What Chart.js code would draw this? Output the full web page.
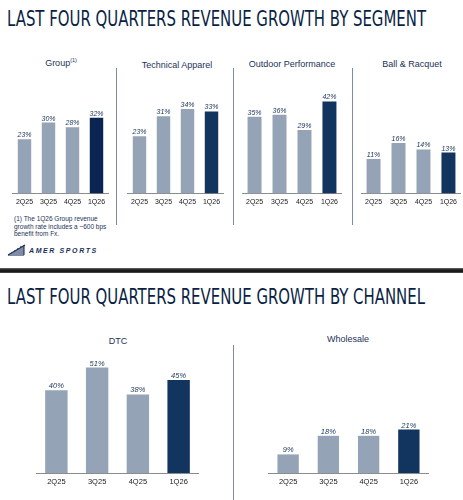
<!DOCTYPE html>
<html>
<head>
<meta charset="utf-8">
<script src="https://cdn.jsdelivr.net/npm/chart.js@4.4.1/dist/chart.umd.min.js"></script>
<style>
    html, body {
        margin: 0;
        padding: 0;
        background: #ffffff;
    }
    body {
        position: relative;
        width: 463px;
        height: 500px;
        overflow: hidden;
        font-family: "Liberation Sans", Arial, sans-serif;
    }
    .page-title {
        position: absolute;
        left: 7px;
        font-family: "Liberation Sans Narrow", "DejaVu Sans Condensed", "Liberation Sans", sans-serif;
        font-size: 21px;
        line-height: 1;
        color: #0b1f45;
        white-space: nowrap;
        transform-origin: left top;
    }
    .panel-title {
        position: absolute;
        font-size: 9px;
        line-height: 1;
        color: #1c3358;
        white-space: nowrap;
        transform: translate(-50%, -50%);
    }
    .panel-title sup {
        font-size: 5.5px;
        vertical-align: 4px;
    }
    .divider {
        position: absolute;
        width: 1px;
        background: #7d8ca3;
    }
    .chart-box {
        position: absolute;
    }
    .footnote {
        position: absolute;
        left: 14px;
        top: 215px;
        font-size: 6.5px;
        line-height: 7.5px;
        color: #1c3358;
    }
    .logo {
        position: absolute;
        left: 7px;
        top: 244px;
        height: 12px;
        display: flex;
        align-items: center;
    }
    .logo span {
        margin-left: 3px;
        font-size: 7px;
        font-weight: bold;
        font-style: italic;
        letter-spacing: 1.6px;
        color: #1a2f5a;
    }
    .band {
        position: absolute;
        left: 0;
        top: 268px;
        width: 463px;
        height: 5px;
        background: linear-gradient(#6a6a6a, #1a1a1a 40%, #1a1a1a 70%, #555555);
    }
</style>
</head>
<body>

<div class="page-title" id="title-segment" style="top: 9px;">LAST FOUR QUARTERS REVENUE GROWTH BY SEGMENT</div>
<div class="page-title" id="title-channel" style="top: 287px;">LAST FOUR QUARTERS REVENUE GROWTH BY CHANNEL</div>

<div class="panel-title" style="left: 61px; top: 63px;">Group<sup>(1)</sup></div>
<div class="panel-title" style="left: 177px; top: 65px;">Technical Apparel</div>
<div class="panel-title" style="left: 292px; top: 64px;">Outdoor Performance</div>
<div class="panel-title" style="left: 412px; top: 64px;">Ball &amp; Racquet</div>
<div class="panel-title" style="left: 118px; top: 341px;">DTC</div>
<div class="panel-title" style="left: 348px; top: 339px;">Wholesale</div>

<div class="divider" style="left: 116px; top: 68px; height: 157px;"></div>
<div class="divider" style="left: 233px; top: 68px; height: 157px;"></div>
<div class="divider" style="left: 352px; top: 68px; height: 157px;"></div>
<div class="divider" style="left: 233px; top: 345px; height: 155px;"></div>

<div class="footnote">(1) The 1Q26 Group revenue<br>growth rate includes a ~600 bps<br>benefit from Fx.</div>

<div class="logo">
    <svg width="19" height="12" viewBox="0 0 19 12">
        <g stroke="#1a2f5a" stroke-width="1.1" fill="none">
            <path d="M1 11 L18 1"/>
            <path d="M1 11 L17 11"/>
            <path d="M4 9 L17 9"/>
            <path d="M7 7 L17 7"/>
            <path d="M10 5 L17 5"/>
            <path d="M13 3 L17 3"/>
            <path d="M17 1 L17 11"/>
        </g>
    </svg>
    <span>AMER SPORTS</span>
</div>

<div class="band"></div>

<script>
    // Data
    const quarters = ["2Q25", "3Q25", "4Q25", "1Q26"];
    const groupGrowth = [23, 30, 28, 32];
    const technicalApparelGrowth = [23, 31, 34, 33];
    const outdoorPerformanceGrowth = [35, 36, 29, 42];
    const ballRacquetGrowth = [11, 16, 14, 13];
    const dtcGrowth = [40, 51, 38, 45];
    const wholesaleGrowth = [9, 18, 18, 21];

    // Colours
    const greyBar = "#95a3b6";
    const navyBar = "#12355f";
    const groupNavyBar = "#0b2452";

    // Fit the condensed titles to their width
    [["title-segment", 419], ["title-channel", 418]].forEach(function (item) {
        let el = document.getElementById(item[0]);
        let w = el.getBoundingClientRect().width;
        el.style.transform = "scaleX(" + (item[1] / w) + ")";
    });

    // Labels above bars
    const barLabels = {
        id: "barLabels",
        afterDatasetsDraw: function (chart) {
            let ctx = chart.ctx;
            let size = chart.options.labelSize;
            ctx.save();
            ctx.font = "italic " + size + "px 'Liberation Sans', Arial, sans-serif";
            ctx.fillStyle = "#213a5e";
            ctx.textAlign = "center";
            ctx.textBaseline = "alphabetic";
            chart.getDatasetMeta(0).data.forEach(function (bar, i) {
                ctx.fillText(chart.data.datasets[0].data[i] + "%", bar.x, bar.y - 2);
            });
            ctx.restore();
        }
    };

    // Panels
    const panels = [
        { values: groupGrowth, last: groupNavyBar, left: 12, width: 97, base: 195, area: 115, max: 48, font: 7, bar: 0.56 },
        { values: technicalApparelGrowth, last: navyBar, left: 127, width: 97, base: 195, area: 115, max: 45.6, font: 7, bar: 0.56 },
        { values: outdoorPerformanceGrowth, last: navyBar, left: 242, width: 100, base: 195, area: 115, max: 51.8, font: 7, bar: 0.56 },
        { values: ballRacquetGrowth, last: navyBar, left: 361, width: 100, base: 195, area: 115, max: 36, font: 7, bar: 0.56 },
        { values: dtcGrowth, last: navyBar, left: 36, width: 163, base: 475, area: 126, max: 60, font: 7.5, bar: 0.55 },
        { values: wholesaleGrowth, last: navyBar, left: 268, width: 161, base: 475, area: 126, max: 60, font: 7.5, bar: 0.53 }
    ];

    panels.forEach(function (p) {
        let box = document.createElement("div");
        box.className = "chart-box";
        box.style.left = p.left + "px";
        let canvas = document.createElement("canvas");
        canvas.width = p.width;
        canvas.height = p.area + 15;
        box.appendChild(canvas);
        document.body.appendChild(box);

        let chart = new Chart(canvas.getContext("2d"), {
            type: "bar",
            data: {
                labels: quarters,
                datasets: [{
                    data: p.values,
                    backgroundColor: [greyBar, greyBar, greyBar, p.last],
                    borderWidth: 0,
                    barPercentage: p.bar,
                    categoryPercentage: 1
                }]
            },
            options: {
                responsive: false,
                animation: false,
                devicePixelRatio: 1,
                labelSize: p.font,
                layout: { padding: 0 },
                plugins: {
                    legend: { display: false },
                    tooltip: { enabled: false }
                },
                scales: {
                    x: {
                        grid: { display: false, drawTicks: false },
                        border: { display: true, color: "#8c8c8c", width: 1 },
                        ticks: {
                            color: "#1a1a1a",
                            padding: 4,
                            font: { size: p.font, family: "'Liberation Sans', Arial, sans-serif" }
                        }
                    },
                    y: {
                        display: false,
                        min: 0,
                        max: p.max
                    }
                }
            },
            plugins: [barLabels]
        });

        // Resize so the plot area has the wanted height and sits on the baseline
        let axisHeight = chart.height - chart.chartArea.bottom;
        chart.resize(p.width, p.area + axisHeight);
        box.style.top = (p.base - p.area) + "px";
    });
</script>
</body>
</html>
